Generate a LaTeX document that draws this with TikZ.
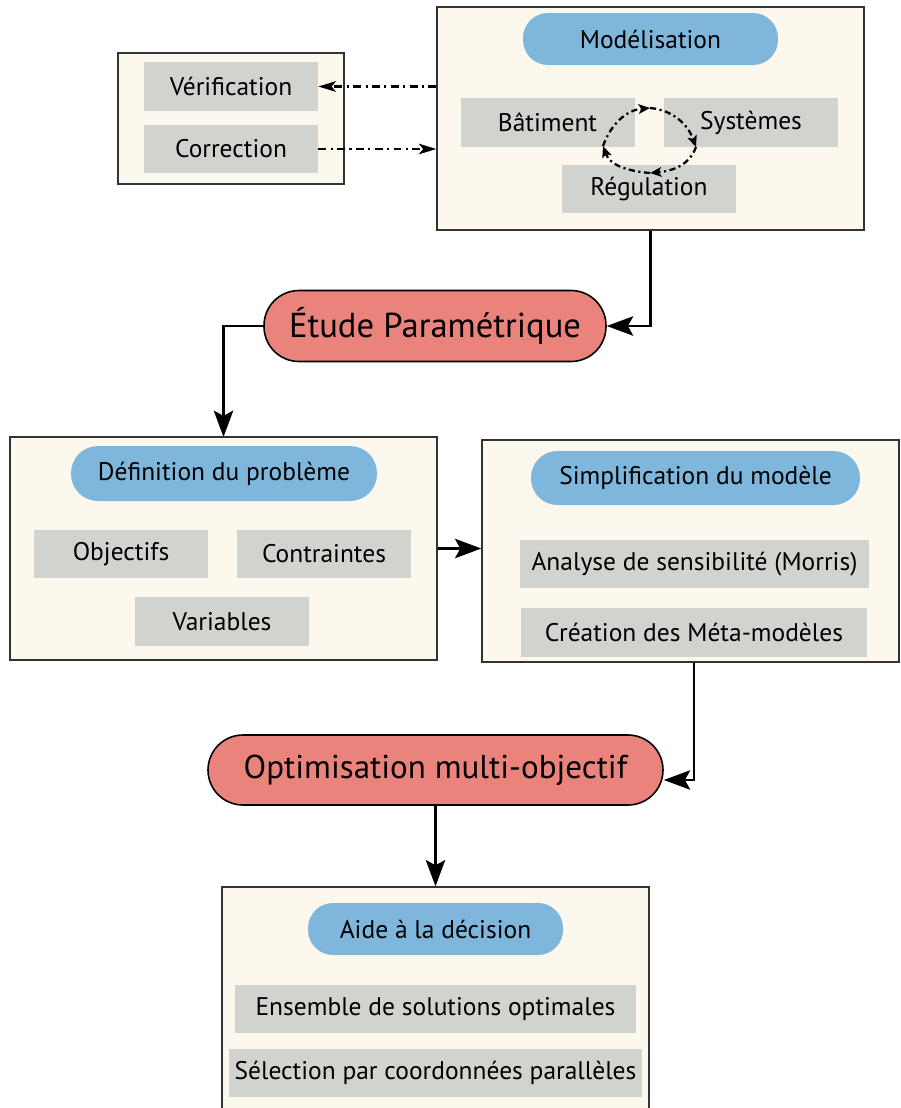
\documentclass[tikz,border=0pt]{standalone}
\usepackage{fontspec}
\setmainfont{PT Sans}
\usetikzlibrary{arrows.meta,positioning,calc}
\definecolor{cream}{HTML}{FCF8EE}
\definecolor{itemgrey}{HTML}{D1D3CF}
\definecolor{pillblue}{HTML}{7EB6DC}
\definecolor{stagered}{HTML}{E9837B}

\begin{document}
\begin{tikzpicture}[font=\fontsize{14.5}{16}\selectfont,
 outer/.style={draw=black!80,line width=.7pt,fill=cream,minimum width=8.54cm,minimum height=4.46cm},
 pill/.style={fill=pillblue,rounded corners=.5cm,minimum height=1.04cm},
 item/.style={fill=itemgrey,minimum width=3.48cm,minimum height=.97cm,inner sep=1pt},
 stage/.style={draw,line width=.9pt,fill=stagered,rounded corners=.7cm,minimum height=1.42cm,font=\fontsize{19.7}{24}\selectfont},
 flow/.style={-{Stealth[length=15pt,width=11pt,inset=3pt]},line width=1.5pt},
 dd/.style={-{Stealth[length=10pt,width=6pt,inset=2.5pt]},line width=1.4pt,dash pattern=on 4.5pt off 2.5pt on 1.2pt off 2.5pt},
 cyc/.style={-{Stealth[length=6.5pt,width=5.5pt,inset=1.5pt]},line width=1.3pt,dash pattern=on 3.5pt off 2pt on 1.2pt off 2pt}]
\useasboundingbox (0,0) rectangle (18.02,-22.16);
% modelisation
\node[outer] (mod) at (13.01,-2.37) {};
\node[pill,minimum width=5.1cm] (modt) at (13.01,-.78) {Modélisation};
\node[item] (bat) at (10.95,-2.45) {Bâtiment};
\node[item] (sys) at (15.02,-2.45) {Systèmes};
\node[item] (reg) at (12.98,-3.78) {Régulation};
\coordinate (ct) at (13.00,-2.16);\coordinate (cr) at (13.92,-2.94);
\coordinate (cb) at (13.00,-3.46);\coordinate (cl) at (12.06,-2.92);
\draw[cyc] (cl) to[out=70,in=185] (ct);
\draw[cyc] (ct) to[out=-5,in=110] (cr);
\draw[cyc] (cr) to[out=-110,in=5] (cb);
\draw[cyc] (cb) to[out=175,in=-70] (cl);
% verification
\node[outer,minimum width=4.52cm,minimum height=2.62cm] (ver) at (4.62,-2.37) {};
\node[item] (verif) at (4.62,-1.73) {Vérification};
\node[item] (corr) at (4.62,-2.98) {Correction};
\draw[dd] (mod.west |- verif) -- (verif.east);
\draw[dd] (corr.east) -- (mod.west |- corr);
% etude
\node[stage,minimum width=6.84cm] (etude) at (8.70,-6.52) {Étude Paramétrique};
\draw[flow] (mod.south) |- (etude.east);
\draw[flow] (etude.west) -| (4.47,-8.74);
% definition
\node[outer] (def) at (4.47,-10.97) {};
\node[pill,minimum width=6.12cm,minimum height=1.1cm,rounded corners=.54cm] (deft) at (4.48,-9.47) {Définition du problème};
\node[item] (obj) at (2.42,-11.08) {Objectifs};
\node[item] (cont) at (6.48,-11.08) {Contraintes};
\node[item] (var) at (4.44,-12.43) {Variables};
% simplification
\node[outer,minimum width=8.34cm,minimum height=4.44cm] (simp) at (13.81,-11.02) {};
\node[pill,minimum width=6.58cm,minimum height=1.08cm,rounded corners=.53cm] (simpt) at (13.91,-9.56) {Simplification du modèle};
\node[item,minimum width=6.98cm] (ana) at (13.89,-11.28) {Analyse de sensibilité (Morris)};
\node[item,minimum width=6.92cm] (crea) at (13.88,-12.65) {Création des Méta-modèles};
\draw[flow] (def.east) -- (def.east -| simp.west);
% optimisation
\node[stage,minimum width=9.1cm,minimum height=1.4cm,font=\fontsize{18.8}{22}\selectfont] (opt) at (8.71,-15.40) {Optimisation multi-objectif};
\draw[flow] (simp.south -| crea) |- ([yshift=-.2cm]opt.east);
% aide
\node[outer] (aide) at (8.71,-19.97) {};
\node[pill,minimum width=5.1cm] (aidet) at (8.71,-18.58) {Aide à la décision};
\node[item,minimum width=8.02cm] (ens) at (8.71,-20.18) {Ensemble de solutions optimales};
\node[item,minimum width=8.26cm] (sel) at (8.71,-21.46) {Sélection par coordonnées parallèles};
\draw[flow] (opt.south) -- (aide.north);
\end{tikzpicture}
\end{document}
